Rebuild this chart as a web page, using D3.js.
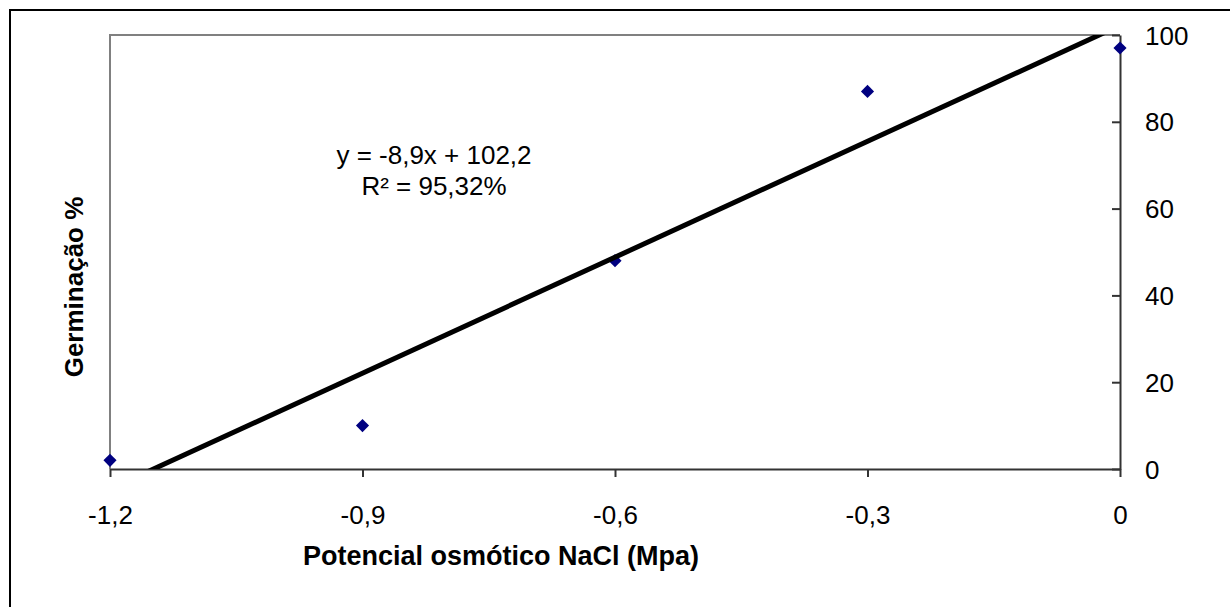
<!DOCTYPE html>
<html lang="pt">
<head>
    <meta charset="UTF-8">
    <title>Germinação x Potencial osmótico</title>
    <script src="https://cdn.jsdelivr.net/npm/d3@7/dist/d3.min.js"></script>
    <style>
        body {
            margin: 0;
            background: #fff;
        }
        svg {
            display: block;
            font-family: "Liberation Sans", Arial, sans-serif;
        }
        .tick text {
            font-size: 26px;
            fill: #000;
        }
        .title {
            font-weight: bold;
        }
    </style>
</head>
<body>
<script>
    // dados
    const potencial = [-1.2, -0.9, -0.6, -0.3, 0];
    const germinacao = [2, 10, 48, 87, 97];

    // ticks
    const xTicks = [-1.2, -0.9, -0.6, -0.3, 0];
    const xTickLabels = ['-1,2', '-0,9', '-0,6', '-0,3', '0'];
    const yTicks = [0, 20, 40, 60, 80, 100];

    // linha de tendência (coeficientes)
    const trend = {slope: 89, intercept: 102.2};
    const trendLabels = ['y = -8,9x + 102,2', 'R² = 95,32%'];

    const width = 1230;
    const height = 607;

    const plot = {left: 110, right: 1120, top: 35, bottom: 469};

    let svg = d3.select('body')
        .append('svg')
        .attr('width', width)
        .attr('height', height);

    // moldura externa
    svg.append('rect')
        .attr('x', 10)
        .attr('y', 10)
        .attr('width', 1240)
        .attr('height', 620)
        .attr('fill', 'none')
        .attr('stroke', '#000')
        .attr('stroke-width', 2);

    let x = d3.scaleLinear().domain([-1.2, 0]).range([plot.left, plot.right]);
    let y = d3.scaleLinear().domain([0, 100]).range([plot.bottom, plot.top]);

    // área do gráfico: topo e esquerda em cinza
    svg.append('path')
        .attr('d', `M${plot.left},${plot.bottom} V${plot.top} H${plot.right}`)
        .attr('fill', 'none')
        .attr('stroke', '#808080')
        .attr('stroke-width', 2);

    // eixo x
    let xAxis = svg.append('g')
        .attr('transform', `translate(0,${plot.bottom})`)
        .call(d3.axisBottom(x)
            .tickValues(xTicks)
            .tickFormat((d, i) => xTickLabels[i])
            .tickSize(8)
            .tickSizeOuter(0)
            .tickPadding(29));
    xAxis.select('.domain').attr('stroke', '#333').attr('stroke-width', 2);
    xAxis.selectAll('.tick line').attr('stroke', '#333').attr('stroke-width', 2);

    // eixo y à direita, marcas para dentro
    let yAxis = svg.append('g')
        .attr('transform', `translate(${plot.right},0)`)
        .call(d3.axisRight(y)
            .tickValues(yTicks)
            .tickSize(0)
            .tickSizeOuter(0)
            .tickPadding(25));
    yAxis.select('.domain').attr('stroke', '#333').attr('stroke-width', 2);
    yAxis.selectAll('.tick text').attr('text-anchor', 'start');
    yAxis.selectAll('.tick').append('line')
        .attr('x1', -8)
        .attr('x2', 0)
        .attr('stroke', '#333')
        .attr('stroke-width', 2);
    yAxis.selectAll('.tick text').attr('dy', '0.35em');

    // recorte da linha de tendência
    svg.append('clipPath')
        .attr('id', 'plot-clip')
        .append('rect')
        .attr('x', plot.left)
        .attr('y', plot.top)
        .attr('width', plot.right - plot.left)
        .attr('height', plot.bottom - plot.top);

    // pontos (losangos)
    svg.append('g')
        .selectAll('path')
        .data(potencial)
        .enter()
        .append('path')
        .attr('d', d3.symbol().type(d3.symbolDiamond2).size(110))
        .attr('transform', (d, i) => `translate(${x(d)},${y(germinacao[i])})`)
        .attr('fill', '#000080');

    // linha de tendência
    let ext = d3.extent(xTicks);
    svg.append('line')
        .attr('clip-path', 'url(#plot-clip)')
        .attr('x1', x(ext[0]))
        .attr('y1', y(trend.slope * ext[0] + trend.intercept))
        .attr('x2', x(ext[1]))
        .attr('y2', y(trend.slope * ext[1] + trend.intercept))
        .attr('stroke', '#000')
        .attr('stroke-width', 5);

    // equação
    svg.append('g')
        .selectAll('text')
        .data(trendLabels)
        .enter()
        .append('text')
        .attr('x', 434)
        .attr('y', (d, i) => 164 + i * 31)
        .attr('text-anchor', 'middle')
        .attr('font-size', 26)
        .text(d => d);

    // títulos
    svg.append('text')
        .attr('class', 'title')
        .attr('x', 501)
        .attr('y', 565)
        .attr('text-anchor', 'middle')
        .attr('font-size', 27)
        .text('Potencial osmótico NaCl (Mpa)');

    svg.append('text')
        .attr('class', 'title')
        .attr('transform', 'translate(83,287) rotate(-90)')
        .attr('text-anchor', 'middle')
        .attr('font-size', 26)
        .text('Germinação %');
</script>
</body>
</html>
